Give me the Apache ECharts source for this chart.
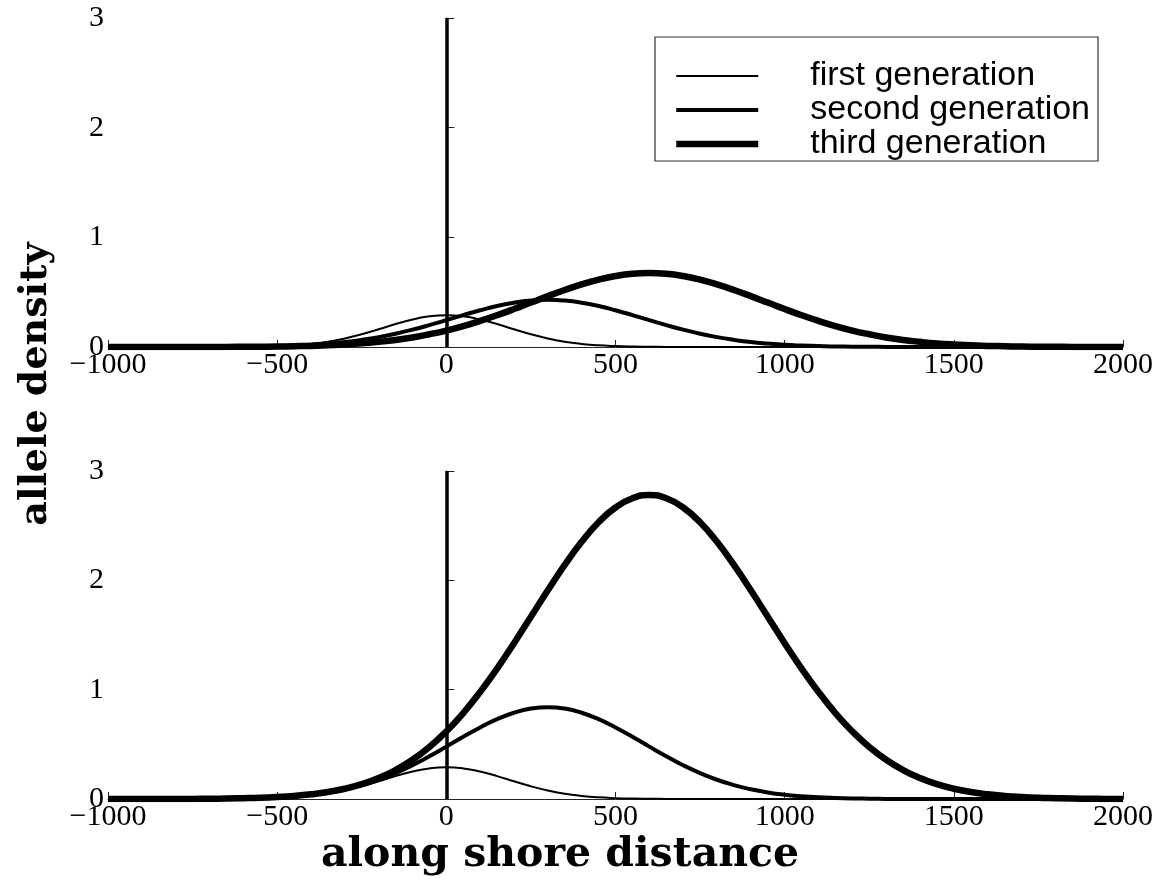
<!DOCTYPE html>
<html>
<head>
<meta charset="utf-8">
<script src="https://cdn.jsdelivr.net/npm/echarts@6/dist/echarts.min.js"></script>
<style>
  html, body { margin: 0; padding: 0; background: #fff; }
  #main { width: 1163px; height: 888px; }
</style>
</head>
<body>
<div id="main"></div>
<script>
// along shore distance, sampled every 50
var distance = [
  -1000, -950, -900, -850, -800, -750, -700, -650, -600, -550,
  -500, -450, -400, -350, -300, -250, -200, -150, -100, -50,
  0, 50, 100, 150, 200, 250, 300, 350, 400, 450,
  500, 550, 600, 650, 700, 750, 800, 850, 900, 950,
  1000, 1050, 1100, 1150, 1200, 1250, 1300, 1350, 1400, 1450,
  1500, 1550, 1600, 1650, 1700, 1750, 1800, 1850, 1900, 1950,
  2000
];

// top panel
var topFirst = [
  0, 0, 0, 0, 0, 0, 0, 0.001, 0.002, 0.004,
  0.008, 0.015, 0.028, 0.048, 0.078, 0.116, 0.162, 0.209, 0.251, 0.280,
  0.290, 0.280, 0.251, 0.209, 0.162, 0.116, 0.078, 0.048, 0.028, 0.015,
  0.008, 0.004, 0.002, 0.001, 0, 0, 0, 0, 0, 0,
  0, 0, 0, 0, 0, 0, 0, 0, 0, 0,
  0, 0, 0, 0, 0, 0, 0, 0, 0, 0,
  0
];
var topSecond = [
  0, 0, 0, 0, 0, 0, 0.001, 0.002, 0.003, 0.005,
  0.008, 0.013, 0.020, 0.031, 0.045, 0.065, 0.090, 0.121, 0.158, 0.200,
  0.245, 0.291, 0.335, 0.374, 0.404, 0.423, 0.430, 0.423, 0.404, 0.374,
  0.335, 0.291, 0.245, 0.200, 0.158, 0.121, 0.090, 0.065, 0.045, 0.031,
  0.020, 0.013, 0.008, 0.005, 0.003, 0.002, 0.001, 0, 0, 0,
  0, 0, 0, 0, 0, 0, 0, 0, 0, 0,
  0
];
var topThird = [
  0, 0, 0, 0, 0, 0, 0.001, 0.001, 0.002, 0.003,
  0.004, 0.007, 0.010, 0.016, 0.023, 0.033, 0.047, 0.064, 0.087, 0.116,
  0.150, 0.191, 0.238, 0.290, 0.346, 0.405, 0.464, 0.520, 0.571, 0.614,
  0.647, 0.668, 0.675, 0.668, 0.647, 0.614, 0.571, 0.520, 0.464, 0.405,
  0.346, 0.290, 0.238, 0.191, 0.150, 0.116, 0.087, 0.064, 0.047, 0.033,
  0.023, 0.016, 0.010, 0.007, 0.004, 0.003, 0.002, 0.001, 0.001, 0,
  0
];

// bottom panel
var botFirst = topFirst.slice();
var botSecond = [
  0, 0, 0, 0, 0, 0, 0.001, 0.003, 0.005, 0.009,
  0.015, 0.025, 0.039, 0.060, 0.089, 0.127, 0.176, 0.237, 0.309, 0.391,
  0.479, 0.569, 0.654, 0.730, 0.789, 0.827, 0.840, 0.827, 0.789, 0.730,
  0.654, 0.569, 0.479, 0.391, 0.309, 0.237, 0.176, 0.127, 0.089, 0.060,
  0.039, 0.025, 0.015, 0.009, 0.005, 0.003, 0.001, 0, 0, 0,
  0, 0, 0, 0, 0, 0, 0, 0, 0, 0,
  0
];
var botThird = [
  0, 0, 0, 0, 0.001, 0.001, 0.003, 0.004, 0.007, 0.011,
  0.018, 0.028, 0.043, 0.064, 0.094, 0.136, 0.192, 0.265, 0.359, 0.476,
  0.618, 0.786, 0.979, 1.193, 1.425, 1.667, 1.909, 2.141, 2.352, 2.531,
  2.666, 2.751, 2.780, 2.751, 2.666, 2.531, 2.352, 2.141, 1.909, 1.667,
  1.425, 1.193, 0.979, 0.786, 0.618, 0.476, 0.359, 0.265, 0.192, 0.136,
  0.094, 0.064, 0.043, 0.028, 0.018, 0.011, 0.007, 0.004, 0.003, 0.001,
  0.001
];

var names = ["first generation", "second generation", "third generation"];
var widths = [2, 4, 6.5];
var shoreX = 0; // vertical line (shore point)

function pairs(ys) {
  return distance.map(function (x, i) { return [x, ys[i]]; });
}

function makeSeries(ys, k, gridIdx) {
  var s = {
    name: names[k],
    type: "line",
    xAxisIndex: gridIdx,
    yAxisIndex: gridIdx,
    data: pairs(ys),
    smooth: true,
    symbol: "none",
    color: "#000",
    lineStyle: { color: "#000", width: widths[k] },
    silent: true,
  };
  if (k === 0) {
    s.markLine = {
      silent: true,
      symbol: "none",
      label: { show: false },
      lineStyle: { color: "#000", width: 3.5, type: "solid" },
      data: [{ xAxis: shoreX }],
    };
  }
  return s;
}

function xAx(gridIdx) {
  return {
    type: "value",
    gridIndex: gridIdx,
    min: -1000,
    max: 2000,
    interval: 500,
    axisLine: { onZero: false, lineStyle: { color: "#222", width: 1 } },
    axisTick: { inside: true, length: 7, lineStyle: { color: "#222" } },
    axisLabel: {
      color: "#000",
      fontFamily: "Liberation Serif",
      fontSize: 30,
      margin: 3,
      formatter: function (v) { return String(v).replace("-", "\u2212"); },
    },
    splitLine: { show: false },
  };
}

function yAx(gridIdx) {
  return {
    type: "value",
    gridIndex: gridIdx,
    min: 0,
    max: 3,
    interval: 1,
    axisLine: { show: true, lineStyle: { color: "#222", width: 1 } },
    axisTick: { show: true, inside: true, length: 8, lineStyle: { color: "#222" } },
    axisLabel: {
      color: "#000",
      fontFamily: "Liberation Serif",
      fontSize: 30,
      margin: 4,
    },
    splitLine: { show: false },
  };
}

var option = {
  backgroundColor: "#fff",
  animation: false,
  grid: [
    { left: 108, right: 40, top: 18, height: 329 },
    { left: 108, right: 40, top: 471, height: 328 },
  ],
  xAxis: [xAx(0), xAx(1)],
  yAxis: [yAx(0), yAx(1)],
  legend: {
    orient: "vertical",
    left: 655,
    top: 37,
    padding: [22, 8, 0, 18],
    itemWidth: 82,
    itemHeight: 20,
    itemGap: 0,
    borderColor: "#333",
    borderWidth: 1.2,
    backgroundColor: "#fff",
    selectedMode: false,
    itemStyle: { opacity: 0 },
    textStyle: {
      color: "#000",
      fontFamily: "Liberation Sans",
      fontSize: 34,
      lineHeight: 34,
      padding: [0, 0, 0, 47],
    },
    data: names.map(function (n, k) {
      return { name: n, lineStyle: { color: "#000", width: widths[k] } };
    }),
  },
  graphic: [
    {
      type: "text",
      x: 36,
      y: 384,
      rotation: Math.PI / 2,
      style: {
        text: "allele density",
        font: "bold 38px 'DejaVu Serif'",
        fill: "#000",
        textAlign: "center",
        textVerticalAlign: "middle",
      },
    },
    {
      type: "text",
      x: 560,
      y: 855,
      style: {
        text: "along shore distance",
        font: "bold 41px 'DejaVu Serif'",
        fill: "#000",
        textAlign: "center",
        textVerticalAlign: "middle",
      },
    },
  ],
  series: [
    makeSeries(topFirst, 0, 0),
    makeSeries(topSecond, 1, 0),
    makeSeries(topThird, 2, 0),
    makeSeries(botFirst, 0, 1),
    makeSeries(botSecond, 1, 1),
    makeSeries(botThird, 2, 1),
  ],
};

var chartDom = document.getElementById("main");
var myChart = echarts.init(chartDom);
myChart.setOption(option);
</script>
</body>
</html>
